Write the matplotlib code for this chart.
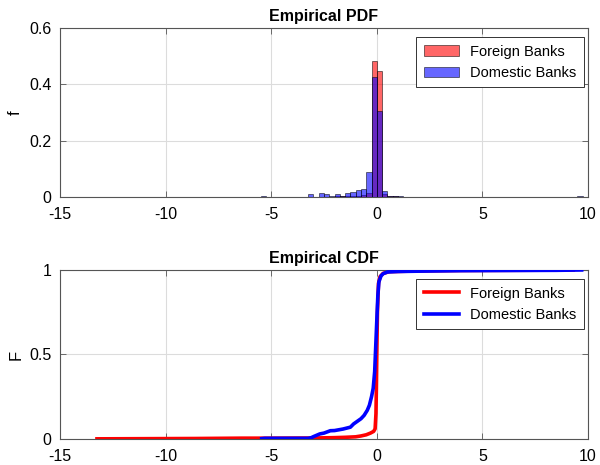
import numpy as np
import matplotlib.pyplot as plt

plt.rcParams['font.family'] = ['Liberation Sans', 'DejaVu Sans']
plt.rcParams['axes.unicode_minus'] = False

# histogram (probability per 0.25-wide bin), left edges
bin_w = 0.25
foreign_left = [-13.25, -8.75, -8.5, -6.5, -3.0, -2.0, -1.75, -1.5, -1.25, -1.0, -0.75, -0.5,
                -0.25, 0.0, 0.25, 0.5, 0.75, 1.5, 2.25, 3.75, 8.25]
foreign_p = [0.001, 0.001, 0.001, 0.001, 0.001, 0.002, 0.002, 0.002, 0.003, 0.004, 0.006, 0.014,
             0.483, 0.447, 0.012, 0.003, 0.002, 0.001, 0.001, 0.001, 0.001]
domestic_left = [-5.5, -3.25, -2.75, -2.5, -2.25, -2.0, -1.75, -1.5, -1.25, -1.0, -0.75, -0.5,
                 -0.25, 0.0, 0.25, 0.5, 0.75, 1.0, 1.5, 2.25, 3.75, 8.25, 9.5]
domestic_p = [0.004, 0.0095, 0.0154, 0.0095, 0.0035, 0.0095, 0.005, 0.014, 0.019, 0.024, 0.030, 0.088,
              0.425, 0.306, 0.021, 0.003, 0.003, 0.002, 0.001, 0.001, 0.001, 0.001, 0.002]

# empirical CDF points
foreign_x = [-13.25, -8.6, -6.4, -5.0, -3.0, -2.0, -1.5, -1.0, -0.75, -0.5, -0.3, -0.15, -0.08,
             -0.04, -0.02, 0.0, 0.03, 0.08, 0.15, 0.3, 0.6, 1.5, 2.5, 4.0, 8.4, 9.3]
foreign_F = [0.001, 0.003, 0.005, 0.005, 0.006, 0.008, 0.010, 0.013, 0.018, 0.025, 0.035, 0.045, 0.06,
             0.15, 0.30, 0.50, 0.75, 0.92, 0.96, 0.98, 0.99, 0.993, 0.995, 0.997, 0.999, 1.0]
domestic_x = [-5.45, -5.3, -3.25, -3.1, -3.0, -2.7, -2.5, -2.2, -2.0, -1.6, -1.25, -1.1, -0.75,
              -0.6, -0.45, -0.35, -0.25, -0.17, -0.1, -0.05, 0.0, 0.05, 0.1, 0.2, 0.3, 0.5, 1.0,
              2.0, 4.0, 8.5, 9.7]
domestic_F = [0.002, 0.004, 0.004, 0.008, 0.014, 0.03, 0.035, 0.049, 0.05, 0.059, 0.07, 0.089, 0.12,
              0.14, 0.17, 0.20, 0.25, 0.30, 0.40, 0.55, 0.70, 0.85, 0.93, 0.965, 0.978, 0.988, 0.991,
              0.993, 0.996, 0.998, 1.0]

axis_col = '#555555'
fig = plt.figure(figsize=(6, 4.65), dpi=100)
ax1 = fig.add_axes([0.1, 0.5763, 0.88, 0.3635])
ax2 = fig.add_axes([0.1, 0.0559, 0.88, 0.3635])

ax1.bar(foreign_left, foreign_p, width=bin_w, align='edge', color='red', alpha=0.6,
        edgecolor='black', linewidth=0.6, label='Foreign Banks', zorder=2)
ax1.bar(domestic_left, domestic_p, width=bin_w, align='edge', color='blue', alpha=0.6,
        edgecolor='black', linewidth=0.6, label='Domestic Banks', zorder=3)
ax1.set_ylim(0, 0.6)
ax1.set_yticks([0, 0.2, 0.4, 0.6])
ax1.set_yticklabels(['0', '0.2', '0.4', '0.6'])
ax1.set_ylabel('f', fontsize=12, labelpad=5)
ax1.set_title('Empirical PDF', fontsize=11.5, fontweight='bold', pad=5)

ax2.plot(foreign_x, foreign_F, color='red', linewidth=2.6, label='Foreign Banks', zorder=2)
ax2.plot(domestic_x, domestic_F, color='blue', linewidth=2.6, label='Domestic Banks', zorder=3)
ax2.set_ylim(0, 1)
ax2.set_yticks([0, 0.5, 1])
ax2.set_yticklabels(['0', '0.5', '1'])
ax2.set_ylabel('F', fontsize=12, labelpad=4)
ax2.set_title('Empirical CDF', fontsize=11.5, fontweight='bold', pad=5)

for ax in (ax1, ax2):
    ax.set_xlim(-15, 10)
    ax.set_xticks([-15, -10, -5, 0, 5, 10])
    ax.grid(True, color='#dcdcdc', linewidth=0.8, zorder=0)
    ax.set_axisbelow(True)
    ax.tick_params(direction='in', length=4, width=0.6, colors=axis_col, labelcolor='black',
                   labelsize=11.5, top=True, right=True)
    ax.tick_params(axis='x', pad=7)
    ax.tick_params(axis='y', pad=6)
    for s in ax.spines.values():
        s.set_color(axis_col)
        s.set_linewidth(0.8)
    leg = ax.legend(loc='upper right', bbox_to_anchor=(0.992, 0.945), fontsize=10.5,
                    fancybox=False, framealpha=1, edgecolor='#333333', borderaxespad=0,
                    handlelength=2.4, borderpad=0.5)
    leg.get_frame().set_linewidth(0.7)

fig.savefig('out.png')
